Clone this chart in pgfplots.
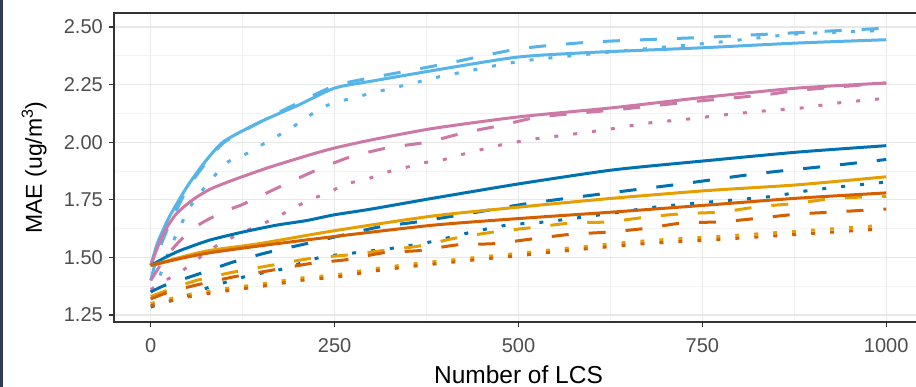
\documentclass[border=0pt]{standalone}
\usepackage{pgfplots}
\pgfplotsset{compat=1.18}
\usepackage{fontspec}
\setmainfont{Liberation Sans}
\definecolor{lb}{HTML}{56B4E9}
\definecolor{pk}{HTML}{CC79A7}
\definecolor{db}{HTML}{0072B2}
\definecolor{yw}{HTML}{E69F00}
\definecolor{vm}{HTML}{D55E00}
\definecolor{strip}{HTML}{2C3E50}
\definecolor{tickgrey}{HTML}{4D4D4D}
\definecolor{border}{HTML}{333333}
\begin{document}
\begin{tikzpicture}
\useasboundingbox (0pt,0pt) rectangle (916pt,387pt);
\clip (0pt,0pt) rectangle (916pt,387pt);
\fill[white] (0pt,0pt) rectangle (916pt,387pt);
\fill[strip] (0pt,0pt) rectangle (3pt,387pt);
\begin{axis}[
  at={(114pt,65pt)}, anchor=south west,
  scale only axis, width=809pt, height=309pt,
  xmin=-50, xmax=1050, ymin=1.2196, ymax=2.561,
  xtick={0,250,500,750,1000}, xticklabels={0,250,500,750,1000},
  ytick={1.25,1.5,1.75,2,2.25,2.5}, yticklabels={1.25,1.50,1.75,2.00,2.25,2.50},
  minor xtick={125,375,625,875},
  minor ytick={1.375,1.625,1.875,2.125,2.375},
  grid=both,
  major grid style={draw=black!9, line width=1.1pt},
  minor grid style={draw=black!5, line width=0.7pt},
  tick align=outside, major tick length=5pt, minor tick length=0pt,
  tick style={draw=border, line width=1.2pt},
  axis line style={draw=border, line width=1.8pt},
  xtick pos=bottom, ytick pos=left,
  tick label style={font=\fontsize{20}{20}\selectfont, text=tickgrey, inner sep=0pt},
  xticklabel style={anchor=north, yshift=-11pt},
  yticklabel style={anchor=east, xshift=-6pt},
  xlabel={Number of LCS},
  ylabel={MAE (ug/m\textsuperscript{3})},
  xlabel style={font=\fontsize{24.5}{24.5}\selectfont, at={(axis description cs:0.5,-0.198)}, anchor=base, inner sep=0pt},
  ylabel style={font=\fontsize{23}{23}\selectfont, at={(axis description cs:-0.089,0.5)}, anchor=base, inner sep=0pt},
  every axis plot/.append style={line width=3pt, smooth, tension=0.4},
]
% light blue
\addplot[lb] coordinates {(0,1.465) (5,1.52) (10,1.57) (25,1.675) (50,1.81) (75,1.92) (100,2.005) (150,2.09) (200,2.16) (250,2.235) (300,2.265) (400,2.32) (500,2.37) (600,2.39) (750,2.41) (875,2.43) (1000,2.445)};
\addplot[lb, dash pattern=on 17pt off 20pt] coordinates {(0,1.40) (10,1.52) (25,1.64) (50,1.80) (75,1.91) (100,2.00) (150,2.09) (200,2.17) (250,2.245) (300,2.28) (400,2.34) (500,2.405) (600,2.435) (750,2.455) (875,2.475) (1000,2.495)};
\addplot[lb, dash pattern=on 4pt off 15pt] coordinates {(0,1.35) (10,1.40) (25,1.53) (50,1.70) (67,1.78) (103,1.91) (130,1.95) (157,2.00) (182,2.045) (207,2.095) (232,2.15) (260,2.18) (309,2.22) (362,2.26) (386,2.28) (500,2.35) (620,2.39) (774,2.435) (879,2.47) (1000,2.485)};
% pink
\addplot[pk] coordinates {(0,1.465) (10,1.55) (20,1.62) (35,1.69) (57,1.75) (80,1.795) (112,1.836) (160,1.89) (216,1.945) (250,1.975) (300,2.01) (384,2.06) (500,2.11) (629,2.15) (756,2.196) (879,2.235) (1000,2.257)};
\addplot[pk, dash pattern=on 17pt off 20pt] coordinates {(0,1.40) (20,1.50) (42,1.58) (67,1.645) (100,1.70) (125,1.73) (171,1.80) (226,1.88) (271,1.936) (321,1.975) (375,2.0) (425,2.04) (479,2.075) (529,2.11) (629,2.14) (733,2.175) (833,2.205) (883,2.226) (1000,2.257)};
\addplot[pk, dash pattern=on 4pt off 15pt] coordinates {(0,1.36) (20,1.40) (42,1.44) (75,1.52) (100,1.57) (138,1.627) (162,1.66) (189,1.705) (216,1.75) (241,1.78) (266,1.82) (291,1.836) (316,1.866) (343,1.887) (369,1.91) (393,1.92) (420,1.944) (471,1.985) (522,2.014) (574,2.035) (624,2.057) (676,2.083) (729,2.10) (778,2.118) (831,2.135) (883,2.148) (933,2.17) (987,2.187) (1000,2.19)};
% dark blue
\addplot[db] coordinates {(0,1.465) (20,1.50) (40,1.53) (80,1.575) (125,1.61) (171,1.64) (212,1.66) (248,1.684) (300,1.71) (384,1.757) (502,1.82) (629,1.88) (756,1.92) (879,1.957) (1000,1.985)};
\addplot[db, dash pattern=on 17pt off 20pt] coordinates {(0,1.35) (20,1.38) (67,1.43) (112,1.48) (157,1.52) (212,1.56) (307,1.63) (362,1.654) (450,1.70) (515,1.735) (624,1.78) (724,1.82) (828,1.865) (931,1.90) (1000,1.925)};
\addplot[db, dash pattern=on 4pt off 15pt] coordinates {(0,1.285) (30,1.315) (50,1.335) (76,1.367) (132,1.42) (180,1.45) (230,1.50) (278,1.52) (329,1.54) (380,1.567) (431,1.606) (484,1.64) (536,1.654) (588,1.675) (638,1.697) (690,1.72) (743,1.736) (795,1.75) (845,1.765) (894,1.79) (947,1.81) (1000,1.827)};
% orange
\addplot[yw] coordinates {(0,1.465) (40,1.50) (80,1.53) (148,1.56) (248,1.615) (384,1.68) (506,1.72) (629,1.757) (756,1.79) (879,1.815) (1000,1.85)};
\addplot[yw, dash pattern=on 17pt off 20pt] coordinates {(0,1.33) (25,1.36) (62,1.40) (112,1.436) (166,1.467) (220,1.497) (266,1.51) (316,1.53) (366,1.55) (416,1.585) (466,1.61) (520,1.63) (573,1.65) (622,1.654) (674,1.675) (724,1.69) (776,1.697) (826,1.72) (879,1.735) (931,1.757) (1000,1.765)};
\addplot[yw, dash pattern=on 4pt off 15pt] coordinates {(0,1.30) (53,1.34) (103,1.365) (152,1.385) (203,1.41) (253,1.425) (302,1.45) (352,1.47) (397,1.485) (459,1.505) (509,1.52) (536,1.53) (665,1.57) (792,1.595) (1000,1.64)};
% vermilion
\addplot[vm] coordinates {(0,1.465) (40,1.495) (80,1.52) (148,1.55) (248,1.59) (384,1.64) (506,1.67) (629,1.697) (756,1.727) (879,1.757) (1000,1.78)};
\addplot[vm, dash pattern=on 17pt off 20pt] coordinates {(0,1.32) (25,1.35) (62,1.38) (112,1.415) (166,1.445) (220,1.475) (266,1.49) (316,1.52) (366,1.53) (416,1.554) (468,1.56) (518,1.58) (570,1.60) (622,1.61) (673,1.626) (724,1.65) (774,1.654) (826,1.67) (879,1.688) (928,1.697) (1000,1.71)};
\addplot[vm, dash pattern=on 4pt off 15pt] coordinates {(0,1.29) (53,1.33) (103,1.355) (152,1.375) (203,1.40) (253,1.415) (302,1.44) (352,1.46) (397,1.475) (459,1.495) (509,1.51) (536,1.52) (665,1.558) (792,1.582) (1000,1.625)};
\end{axis}
\end{tikzpicture}
\end{document}
